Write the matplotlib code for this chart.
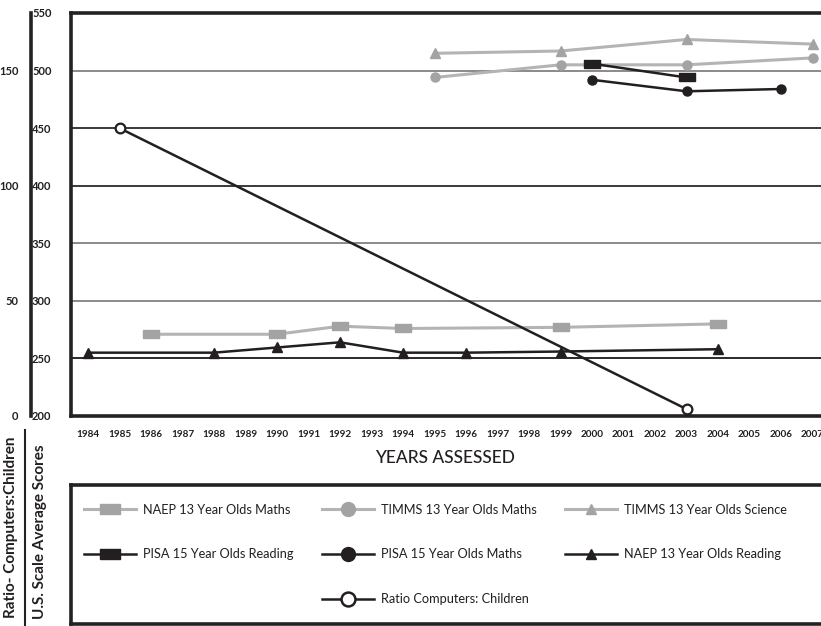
import matplotlib
matplotlib.use("Agg")
import matplotlib.pyplot as plt
from matplotlib.lines import Line2D

# ---------------- data ----------------
naep_math_years = [1986, 1990, 1992, 1994, 1999, 2004]
naep_math = [271, 271, 278, 276, 277, 280]

timms_math_years = [1995, 1999, 2003, 2007]
timms_math = [494, 505, 505, 511]

timms_sci_years = [1995, 1999, 2003, 2007]
timms_sci = [515, 517, 527, 523]

pisa_read_years = [2000, 2003]
pisa_read = [506, 494]

pisa_math_years = [2000, 2003, 2006]
pisa_math = [492, 482, 484]

naep_read_years = [1984, 1988, 1990, 1992, 1994, 1996, 1999, 2004]
naep_read = [255, 255, 259.5, 264, 255, 255, 256, 258]

ratio_years = [1985, 2003]
ratio = [125, 3]

x_years = list(range(1984, 2008))
score_ticks = [200, 250, 300, 350, 400, 450, 500, 550]
ratio_ticks = [0, 50, 100, 150]

labels = ["NAEP 13 Year Olds Maths", "TIMMS 13 Year Olds Maths", "TIMMS 13 Year Olds Science",
          "PISA 15 Year Olds Reading", "PISA 15 Year Olds Maths", "NAEP 13 Year Olds Reading",
          "Ratio Computers: Children"]

# ---------------- style ----------------
W, H = 821, 626
FAM = ['Lato', 'DejaVu Sans']
BLACK = '#231f20'
GRAY_M = '#a3a3a5'
GRAY_L = '#b4b4b6'
TXT = '#231f20'

RECT = [(-1, -0.5), (1, -0.5), (1, 0.5), (-1, 0.5), (-1, -0.5)]

fig = plt.figure(figsize=(W / 100, H / 100), dpi=100)

def fx(px):
    return px / W

def fy(py):
    return 1 - py / H

left_px, right_px, top_px, bot_px = 71, 840, 13, 416
PX_PER_YEAR = 31.5
ax = fig.add_axes([fx(left_px), fy(bot_px), fx(right_px - left_px), (bot_px - top_px) / H])

x0 = 1984 - (88 - left_px) / PX_PER_YEAR
x1 = x0 + (right_px - left_px) / PX_PER_YEAR
ax.set_xlim(x0, x1)
ax.set_ylim(200, 550)

# grid lines
grid_colors = {250: '#2a2a2a', 300: '#8a8a8a', 350: '#8a8a8a', 400: '#3a3a3a', 450: '#3a3a3a', 500: '#8a8a8a'}
for v, c in grid_colors.items():
    ax.axhline(v, color=c, lw=1.4, zorder=1)

for s in ['left', 'top', 'bottom']:
    ax.spines[s].set_linewidth(2.6)
    ax.spines[s].set_color('#222222')
ax.spines['right'].set_visible(False)

ax.set_yticks(score_ticks)
ax.set_yticklabels([str(v) for v in score_ticks], family=FAM, fontsize=8, fontweight='bold', color=TXT)
ax.tick_params(axis='y', length=0, pad=14)
ax.set_xticks(x_years)
ax.set_xticklabels([str(y) for y in x_years], family=FAM, fontsize=7.2, fontweight='bold', color=TXT)
ax.tick_params(axis='x', length=0, pad=10)

# series
ax.plot(naep_math_years, naep_math, color=GRAY_L, lw=2.2, marker=RECT, ms=11.5,
        mfc=GRAY_M, mec=GRAY_M, zorder=3)
ax.plot(timms_math_years, timms_math, color=GRAY_L, lw=2.2, marker='o', ms=6.5,
        mfc=GRAY_M, mec=GRAY_M, zorder=3)
ax.plot(timms_sci_years, timms_sci, color=GRAY_L, lw=2.2, marker='^', ms=6.5,
        mfc=GRAY_M, mec=GRAY_M, zorder=3)
ax.plot(pisa_read_years, pisa_read, color=BLACK, lw=1.8, marker=RECT, ms=11.5,
        mfc=BLACK, mec=BLACK, zorder=4)
ax.plot(pisa_math_years, pisa_math, color=BLACK, lw=1.8, marker='o', ms=6.5,
        mfc=BLACK, mec=BLACK, zorder=4)
ax.plot(naep_read_years, naep_read, color=BLACK, lw=1.8, marker='^', ms=6.5,
        mfc=BLACK, mec=BLACK, zorder=4)

# ratio axis
axr = ax.twinx()
axr.set_ylim(0, 175)
axr.plot(ratio_years, ratio, color=BLACK, lw=1.8, marker='o', ms=7, mfc='white',
         mec=BLACK, mew=1.6, zorder=5, clip_on=False)
axr.yaxis.tick_left()
axr.yaxis.set_label_position('left')
for s in ['right', 'top', 'bottom']:
    axr.spines[s].set_visible(False)
axr.spines['left'].set_position(('axes', (31 - left_px) / (right_px - left_px)))
axr.spines['left'].set_linewidth(2.6)
axr.spines['left'].set_color('#222222')
axr.set_yticks(ratio_ticks)
axr.set_yticklabels([str(v) for v in ratio_ticks], family=FAM, fontsize=8, fontweight='bold', color=TXT)
axr.tick_params(axis='y', length=0, pad=9)
axr.tick_params(axis='x', length=0, labelbottom=False)

# x label
fig.text(fx(445), fy(458), "YEARS ASSESSED", family=FAM, fontsize=12.5, fontweight='medium',
         color=TXT, ha='center', va='center')

# rotated y labels
fig.text(fx(11), fy(527), "Ratio- Computers:Children", family=FAM, fontsize=11, fontweight='bold',
         color=TXT, rotation=90, ha='center', va='center')
fig.text(fx(40), fy(532), "U.S. Scale Average Scores", family=FAM, fontsize=11, fontweight='bold',
         color=TXT, rotation=90, ha='center', va='center')
fig.add_artist(Line2D([fx(25), fx(25)], [fy(430), fy(626)], color='#222222', lw=1.5))

# legend box
lax = fig.add_axes([fx(71), fy(624), fx(right_px - 71), (624 - 485) / H])
lax.set_xticks([])
lax.set_yticks([])
for s in lax.spines.values():
    s.set_linewidth(2.6)
    s.set_color('#222222')
lax.patch.set_alpha(0)

blank = Line2D([], [], color='none')
h_naep_m = Line2D([], [], color=GRAY_L, lw=2.2, marker=RECT, ms=15, mfc=GRAY_M, mec=GRAY_M)
h_timms_m = Line2D([], [], color=GRAY_L, lw=2.2, marker='o', ms=10, mfc=GRAY_M, mec=GRAY_M)
h_timms_s = Line2D([], [], color=GRAY_L, lw=2.2, marker='^', ms=7, mfc=GRAY_M, mec=GRAY_M)
h_pisa_r = Line2D([], [], color=BLACK, lw=1.8, marker=RECT, ms=15, mfc=BLACK, mec=BLACK)
h_pisa_m = Line2D([], [], color=BLACK, lw=1.8, marker='o', ms=10, mfc=BLACK, mec=BLACK)
h_naep_r = Line2D([], [], color=BLACK, lw=1.8, marker='^', ms=7, mfc=BLACK, mec=BLACK)
h_ratio = Line2D([], [], color=BLACK, lw=1.8, marker='o', ms=10, mfc='white', mec=BLACK, mew=1.8)

handles = [h_naep_m, h_pisa_r, blank,
           h_timms_m, h_pisa_m, h_ratio,
           h_timms_s, h_naep_r, blank]
labs = [labels[0], labels[3], "",
        labels[1], labels[4], labels[6],
        labels[2], labels[5], ""]
leg = lax.legend(handles, labs, ncol=3, loc='center', bbox_to_anchor=(0.474, 0.5),
                 frameon=False, prop={'family': FAM, 'size': 9.2}, handlelength=4.1,
                 handletextpad=0.55, columnspacing=2.2, labelspacing=2.55)
for t in leg.get_texts():
    t.set_color(TXT)

fig.savefig("out.png", dpi=100)
